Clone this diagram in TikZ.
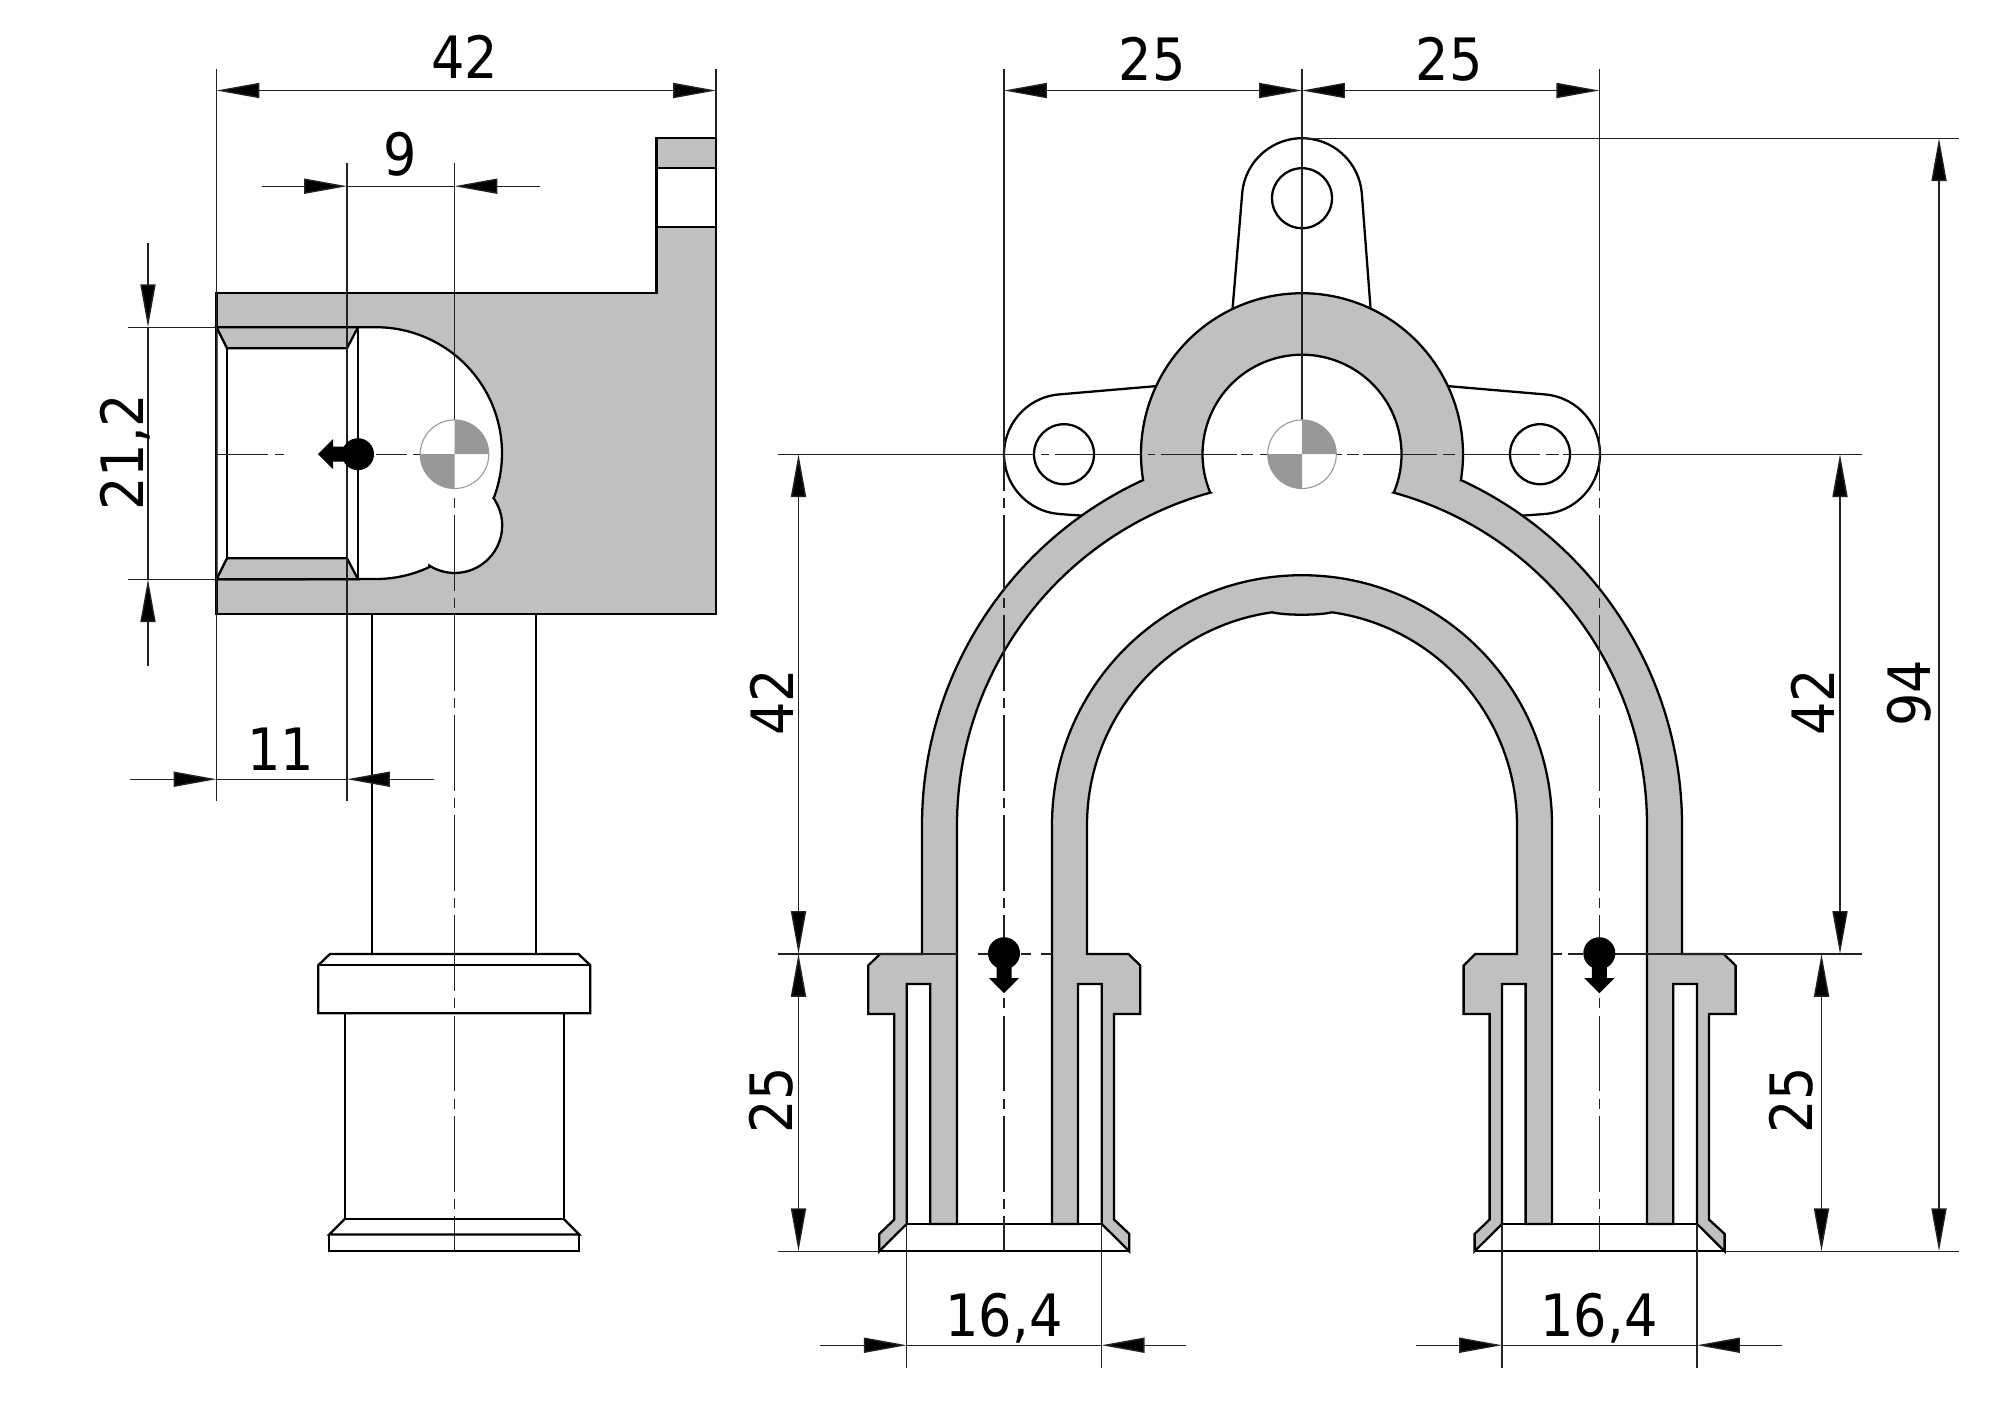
\documentclass[tikz,border=0pt]{standalone}
\usepackage{fontspec}
\setmainfont{DejaVu Sans Condensed}
\usetikzlibrary{arrows.meta}
\definecolor{sect}{HTML}{C0C0C0}
\definecolor{cgrey}{HTML}{989898}
\definecolor{thin}{HTML}{222222}
\tikzset{
  obj/.style={line width=0.65pt,draw=black,line join=miter},
  sec/.style={obj,fill=sect},
  thinl/.style={line width=0.4pt,draw=thin},
  axisl/.style={thinl,dash pattern=on 2.85pt off 2pt on 21.6pt off 2pt},
  dimarrow/.style={thinl,-{Triangle[length=12.2pt,width=4.3pt,fill=black]}},
  dimboth/.style={thinl,{Triangle[length=12.2pt,width=4.3pt,fill=black]}-{Triangle[length=12.2pt,width=4.3pt,fill=black]}},
  dimtext/.style={inner sep=0pt,text height=12.1pt,text depth=0pt,text=black,font=\fontsize{16.6}{20}\selectfont},
}
\newcommand{\cgmark}[2]{%
  \begin{scope}[shift={(#1,#2)}]
    \fill[white] (0,0) circle[radius=34.3];
    \fill[cgrey] (0,0) -- (34.3,0) arc[start angle=0,end angle=90,radius=34.3] -- cycle;
    \fill[cgrey] (0,0) -- (-34.3,0) arc[start angle=180,end angle=270,radius=34.3] -- cycle;
    \draw[cgrey,line width=0.3pt] (0,0) circle[radius=34.3];
  \end{scope}}
\newcommand{\loadmark}[3]{%
  \begin{scope}[shift={(#1,#2)},rotate=#3]
    \fill[black] (0,0) circle[radius=16];
    \fill[black] (-7.5,0) -- (-7.5,-25) -- (-15,-25) -- (0,-40) -- (15,-25) -- (7.5,-25) -- (7.5,0) -- cycle;
  \end{scope}}
\begin{document}
\begin{tikzpicture}[x=0.01cm,y=0.01cm]
\useasboundingbox (0,0) rectangle (2000,-1414);
\fill[white] (0,0) rectangle (2000,-1414);
\begin{scope}[shift={(0,-1.2)}]

%% ---- left view ----
\draw[sec] (216.5,-292) -- (656.4,-292) -- (656.4,-137) -- (716,-137) -- (716,-612.5) -- (216.5,-612.5) -- cycle;
\draw[obj,fill=white] (656.4,-167) rectangle (716,-226);
\draw[obj,fill=white] (216.5,-326) -- (376,-326)
  arc[start angle=90,end angle=-20.9,radius=126]
  -- (493.6,-497) arc[start angle=35,end angle=-122.5,radius=47.5]
  -- (429,-566) arc[start angle=-65,end angle=-90,radius=126]
  -- (216.5,-578) -- cycle;
\draw[sec] (216.5,-326) -- (358,-326) -- (347,-347) -- (227,-347) -- cycle;
\draw[sec] (216.5,-578) -- (358,-578) -- (347,-557) -- (227,-557) -- cycle;
\draw[obj] (227,-347) -- (227,-557);
\draw[obj] (347,-347) -- (347,-557);
\draw[obj] (358,-326) -- (358,-578);
\draw[obj] (372.3,-612.5) -- (372.3,-952.7);
\draw[obj] (536.3,-612.5) -- (536.3,-952.7);
\draw[obj] (330,-952.7) -- (578.3,-952.7) -- (590.3,-964) -- (590.3,-1012) -- (318.3,-1012) -- (318.3,-964) -- cycle;
\draw[obj] (318.3,-964) -- (590.3,-964);
\draw[obj] (344.7,-1012) -- (344.7,-1217.7) -- (563.7,-1217.7) -- (563.7,-1012);
\draw[obj] (344.7,-1217.7) -- (329.3,-1233.3) -- (579.3,-1233.3) -- (563.7,-1217.7);
\draw[obj] (329.3,-1233.3) -- (329.3,-1250) -- (579.3,-1250) -- (579.3,-1233.3);

%% ---- right view: lugs ----
\draw[obj] (1232.5,-308) -- ([shift={(1302,-197)}]175:60) arc[start angle=175,end angle=5,radius=60] -- (1370.6,-308);
\draw[obj] (1155,-385) -- ([shift={(1064,-453)}]95:60) arc[start angle=95,end angle=265,radius=60] -- (1083,-514.5);
\draw[obj] (1449,-385) -- ([shift={(1540,-453)}]85:60) arc[start angle=85,end angle=-85,radius=60] -- (1521,-514.5);
\draw[obj] (1302,-197) circle[radius=30];
\draw[obj] (1064,-453) circle[radius=30];
\draw[obj] (1540,-453) circle[radius=30];

%% ---- right view: section ----
\draw[sec] (922,-952.7) -- (922,-824)
  arc[start angle=180,end angle=114.81,radius=380]
  -- ([shift={(1302,-453)}]189.3:161) arc[start angle=189.3,end angle=-9.3,radius=161]
  -- ([shift={(1302,-824)}]65.19:380) arc[start angle=65.19,end angle=0,radius=380]
  -- (1682,-952.7) -- (1723.6,-952.7) -- (1735.6,-964.3) -- (1735.6,-1012.7) -- (1709,-1012.7)
  -- (1709,-1218.3) -- (1724.6,-1232.7) -- (1724.6,-1250) -- (1697,-1222.7) -- (1697,-982.7)
  -- (1673.3,-982.7) -- (1673.3,-1222.7) -- (1647,-1222.7) -- (1647,-824)
  arc[start angle=0,end angle=74.63,radius=345]
  -- ([shift={(1302,-453)}]-22.4:99.5) arc[start angle=-22.4,end angle=202.4,radius=99.5]
  -- ([shift={(1302,-824)}]105.37:345) arc[start angle=105.37,end angle=180,radius=345]
  -- (957,-1222.7) -- (930.3,-1222.7) -- (930.3,-982.7) -- (906.7,-982.7) -- (906.7,-1222.7)
  -- (879.3,-1250) -- (879.3,-1232.7) -- (894.3,-1218.3) -- (894.3,-1012.7) -- (868.3,-1012.7)
  -- (868.3,-964.3) -- (880,-952.7) -- cycle;
\draw[sec] (1087,-952.7) -- (1087,-824) arc[start angle=180,end angle=98,radius=215]
  .. controls (1285,-614.3) and (1319,-614.3) .. ([shift={(1302,-824)}]82:215)
  arc[start angle=82,end angle=0,radius=215]
  -- (1517,-952.7) -- (1475.3,-952.7) -- (1463.6,-964.3) -- (1463.6,-1012.7) -- (1489.6,-1012.7)
  -- (1489.6,-1218.3) -- (1474.6,-1232.7) -- (1474.6,-1250) -- (1502,-1222.7) -- (1502,-982.7)
  -- (1525.6,-982.7) -- (1525.6,-1222.7) -- (1552,-1222.7) -- (1552,-824)
  arc[start angle=0,end angle=180,radius=250]
  -- (1052,-1222.7) -- (1078,-1222.7) -- (1078,-982.7) -- (1101.7,-982.7) -- (1101.7,-1222.7)
  -- (1129.3,-1250) -- (1129.3,-1232.7) -- (1114,-1218.3) -- (1114,-1012.7) -- (1140.3,-1012.7)
  -- (1140.3,-964.3) -- (1128.3,-952.7) -- cycle;
\foreach \dx in {0,595.3}{
  \draw[obj] (906.7+\dx,-1222.7) -- (1101.7+\dx,-1222.7);
  \draw[obj] (879.3+\dx,-1250) -- (1129.3+\dx,-1250);
}

%% ---- centre lines ----
\foreach \xx in {454.5,1004,1599.3}{ \draw[axisl] (\xx,-497) -- (\xx,-1250); }
\foreach \a/\b in {217/268,275/284,376/407,413/420}{ \draw[thinl] (\a,-453) -- (\b,-453); }
\foreach \a/\b in {1041/1049,1055/1141,1148/1155,1161/1237,1241/1253,1260/1268,1336/1342,1347/1359,1363/1437,1443/1455,1462/1540,1546/1559}{ \draw[thinl] (\a,-453) -- (\b,-453); }
\foreach \a/\b in {978/988,1021/1031,1041/1052,1552/1562,1568/1583}{ \draw[thinl] (\a,-952.7) -- (\b,-952.7); }

%% ---- extension lines ----
\coordinate (e42l) at (216.5,-68);  \coordinate (e42lb) at (216.5,-800);
\coordinate (e42r) at (716,-68);    \coordinate (e42rb) at (716,-137);
\coordinate (e9l) at (347,-162);    \coordinate (e9lb) at (347,-800);
\coordinate (e9r) at (454.5,-162);  \coordinate (e9rb) at (454.5,-487);
\coordinate (eTl) at (1004,-68);    \coordinate (eTlb) at (1004,-490);
\coordinate (eTc) at (1302,-68);    \coordinate (eTcb) at (1302,-487);
\coordinate (eTr) at (1599.3,-68);  \coordinate (eTrb) at (1599.3,-490);
\draw[thinl] (e42l) -- (e42lb);
\draw[thinl] (e42r) -- (e42rb);
\draw[thinl] (e9l) -- (e9lb);
\draw[thinl] (e9r) -- (e9rb);
\draw[thinl] (eTl) -- (eTlb);
\draw[thinl] (eTc) -- (eTcb);
\draw[thinl] (eTr) -- (eTrb);
\draw[thinl] (127.6,-326) -- (216.5,-326);
\draw[thinl] (127.6,-578) -- (216.5,-578);
\draw[thinl] (778,-453) -- (1033,-453);
\draw[thinl] (1563,-453) -- (1862,-453);
\draw[thinl] (778,-952.7) -- (957,-952.7);
\draw[thinl] (1615,-952.7) -- (1862,-952.7);
\draw[thinl] (778,-1250) -- (879.3,-1250);
\draw[thinl] (1724.6,-1250) -- (1959,-1250);
\draw[thinl] (1302,-137) -- (1959,-137);
\draw[thinl] (906.7,-1222.7) -- (906.7,-1367);
\draw[thinl] (1101.7,-1222.7) -- (1101.7,-1367);
\draw[thinl] (1502,-1222.7) -- (1502,-1367);
\draw[thinl] (1697,-1222.7) -- (1697,-1367);

%% ---- markers ----
\cgmark{454.5}{-453}
\cgmark{1302}{-453}
\loadmark{358}{-453}{-90}
\loadmark{1004}{-952}{0}
\loadmark{1599.3}{-952}{0}

%% ---- dimensions ----
\draw[dimboth] (216.5,-89.3) -- (716,-89.3);
\node[dimtext] (t42a) at (465,-56) {42};
\draw[dimarrow] (261.5,-185) -- (347,-185);
\draw[thinl] (347,-185) -- (454.5,-185);
\draw[dimarrow] (539.5,-185) -- (454.5,-185);
\node[dimtext] (t9) at (400,-153) {9};
\draw[dimarrow] (148,-242) -- (148,-326);
\draw[thinl] (148,-326) -- (148,-578);
\draw[dimarrow] (148,-664.5) -- (148,-578);
\node[dimtext,rotate=90] (t212) at (122,-451) {21,2};
\draw[dimarrow] (130,-778) -- (216.5,-778);
\draw[thinl] (216.5,-778) -- (347,-778);
\draw[dimarrow] (433.7,-778) -- (347,-778);
\node[dimtext] (t11) at (281,-748) {11};
\draw[dimboth] (1004,-89.3) -- (1302,-89.3);
\draw[dimboth] (1302,-89.3) -- (1599.3,-89.3);
\node[dimtext] (t25a) at (1152,-58) {25};
\node[dimtext] (t25b) at (1449,-58) {25};
\draw[dimboth] (798.5,-453) -- (798.5,-952.7);
\draw[dimboth] (798.5,-952.7) -- (798.5,-1250);
\node[dimtext,rotate=90] (t42b) at (772,-701) {42};
\node[dimtext,rotate=90] (t25c) at (771,-1099) {25};
\draw[dimboth] (1840,-453) -- (1840,-952.7);
\draw[dimboth] (1821.5,-952.7) -- (1821.5,-1250);
\node[dimtext,rotate=90] (t42c) at (1813,-701) {42};
\node[dimtext,rotate=90] (t25d) at (1791,-1099) {25};
\draw[dimboth] (1939,-137) -- (1939,-1250);
\node[dimtext,rotate=90] (t94) at (1909,-692) {94};
\draw[dimarrow] (820,-1344) -- (906.7,-1344);
\draw[thinl] (906.7,-1344) -- (1101.7,-1344);
\draw[dimarrow] (1186,-1344) -- (1101.7,-1344);
\node[dimtext] (t164a) at (1004,-1314) {16,4};
\draw[dimarrow] (1416,-1344) -- (1502,-1344);
\draw[thinl] (1502,-1344) -- (1697,-1344);
\draw[dimarrow] (1782,-1344) -- (1697,-1344);
\node[dimtext] (t164b) at (1599,-1314) {16,4};
\end{scope}
\end{tikzpicture}
\end{document}
